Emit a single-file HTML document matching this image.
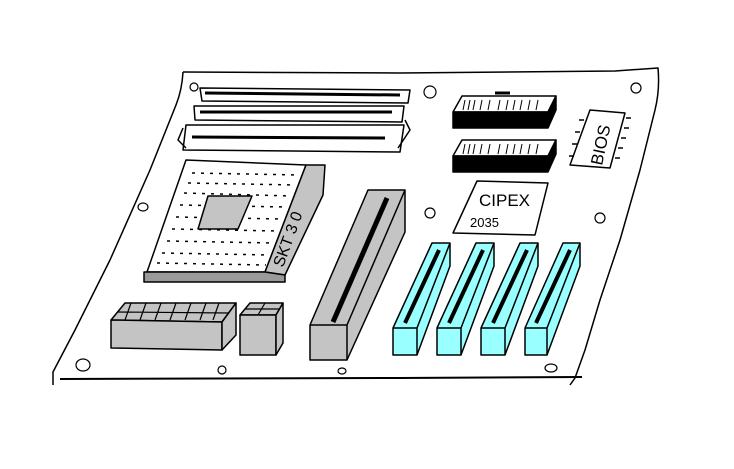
<!DOCTYPE html>
<html><head><meta charset="utf-8"><style>
html,body{margin:0;padding:0;background:#fff;}
svg{display:block;}
text{font-family:"Liberation Sans",sans-serif;}
</style></head><body>
<svg width="734" height="469" viewBox="0 0 734 469" xmlns="http://www.w3.org/2000/svg" stroke="#000" stroke-width="1.5" fill="none" stroke-linejoin="round">
<!-- board -->
<path d="M183,72 L400,73 L615,71 L658,68 Q660,90 655,110 L640,170 L620,240 L600,300 L585,350 L575,378 L570,385"/>
<path d="M183,72 Q182,90 176,105 L150,170 L110,260 L75,330 L53,372 L53,385"/>
<path d="M60,379 L400,378 L582,377" stroke-width="2"/>
<!-- holes -->
<g stroke-width="1.2">
<ellipse cx="194" cy="87" rx="4" ry="4"/><ellipse cx="430" cy="92" rx="6" ry="6"/>
<ellipse cx="143" cy="207" rx="5" ry="4"/><ellipse cx="430" cy="213" rx="5" ry="5"/>
<ellipse cx="636" cy="88" rx="5" ry="5"/><ellipse cx="600" cy="218" rx="5" ry="5"/>
<ellipse cx="551" cy="368" rx="6" ry="4"/><ellipse cx="83" cy="365" rx="7" ry="6"/>
<ellipse cx="222" cy="370" rx="4" ry="4"/><ellipse cx="342" cy="371" rx="4" ry="3"/>
</g>
<!-- RAM slots -->
<path d="M200,88 L410,90 L408,103 L202,101 Z" fill="#fff"/>
<path d="M205,93 L400,95" stroke-width="3"/>
<path d="M194,106 L404,106 L402,122 L195,120 Z" fill="#fff"/>
<path d="M200,112 L392,112" stroke-width="3"/>
<path d="M186,125 L404,125 L400,152 L183,150 Z" fill="#fff"/>
<path d="M192,137 L385,138" stroke-width="3"/>
<path d="M183,128 L178,140 L186,148 M405,120 L410,130 L398,148"/>
<!-- CPU socket -->
<path d="M186,160 L306,165 L265,272 L147,272 Z" fill="#fff"/>
<g stroke-width="1.5" stroke-dasharray="3 6">
<path d="M192,173 L300,175"/><path d="M188,183 L296,185"/><path d="M184,193 L290,196"/>
<path d="M180,205 L286,207"/><path d="M176,217 L282,219"/><path d="M172,229 L278,231"/>
<path d="M167,241 L274,243"/><path d="M162,253 L270,255"/><path d="M157,263 L266,265"/>
</g>
<path d="M208,196 L252,196 L238,229 L198,229 Z" fill="#c4c4c4"/>
<path d="M306,165 L325,165 L323,195 L285,275 L265,272 Z" fill="#c4c4c4"/>
<path d="M144,272 L265,272 L285,275 L285,282 L144,282 Z" fill="#9a9a9a"/>
<text x="0" y="0" transform="translate(283,268) rotate(-70)" font-size="16" fill="#000" stroke="none">SKT 3 0</text>
<!-- AGP gray slot -->
<path d="M368,190 L405,190 L405,232 L347,360 L310,360 L310,325 Z" fill="#c4c4c4"/>
<path d="M310,325 L347,325 L405,190 M347,325 L347,360"/>
<path d="M387,198 L333,322" stroke-width="5"/>
<!-- cyan PCI slots -->
<g>
<path d="M432,243 L450,243 L450,266 L417,355 L393,355 L393,328 Z" fill="#9ff"/>
<path d="M393,328 L417,328 L450,243 M417,328 L417,355"/>
<path d="M439,250 L405,323" stroke-width="4"/>
<path d="M476,243 L494,243 L494,266 L461,355 L437,355 L437,328 Z" fill="#9ff"/>
<path d="M437,328 L461,328 L494,243 M461,328 L461,355"/>
<path d="M483,250 L449,323" stroke-width="4"/>
<path d="M520,243 L538,243 L538,266 L505,355 L481,355 L481,328 Z" fill="#9ff"/>
<path d="M481,328 L505,328 L538,243 M505,328 L505,355"/>
<path d="M527,250 L493,323" stroke-width="4"/>
<path d="M563,243 L580,243 L580,266 L547,355 L525,355 L525,328 Z" fill="#9ff"/>
<path d="M525,328 L547,328 L580,243 M547,328 L547,355"/>
<path d="M570,250 L536,323" stroke-width="4"/>
</g>
<!-- IDE connectors -->
<path d="M462,96 L556,96 L548,112 L453,112 Z" fill="#fff"/>
<path d="M453,112 L548,112 L556,96 L556,110 L548,128 L453,128 Z" fill="#000"/>
<path d="M495,93 L510,93" stroke-width="3"/>
<g stroke-width="1"><path d="M465,100 L463,110 M470,100 L468,110 M475,100 L473,110 M482,100 L480,110 M490,100 L488,110 M500,100 L498,110 M508,100 L506,110 M515,100 L513,110 M522,100 L520,110 M530,100 L528,110 M538,100 L536,110"/></g>
<path d="M462,140 L556,140 L548,156 L453,156 Z" fill="#fff"/>
<path d="M453,156 L548,156 L556,140 L556,154 L548,172 L453,172 Z" fill="#000"/>
<g stroke-width="1"><path d="M465,144 L463,154 M470,144 L468,154 M475,144 L473,154 M482,144 L480,154 M490,144 L488,154 M500,144 L498,154 M508,144 L506,154 M515,144 L513,154 M522,144 L520,154 M530,144 L528,154 M538,144 L536,154"/></g>
<!-- BIOS chip -->
<path d="M590,110 L625,113 L610,168 L570,165 Z" fill="#fff"/>
<g stroke-width="1.5"><path d="M626,118 L631,118 M624,128 L629,128 M621,138 L626,138 M618,148 L623,148 M615,158 L620,158 M584,120 L579,120 M580,132 L575,132 M577,144 L572,144 M574,156 L569,156"/></g>
<text x="0" y="0" transform="translate(602,166) rotate(-78)" font-size="17" fill="#000" stroke="none">BIOS</text>
<!-- CIPEX label -->
<path d="M477,181 L548,183 L535,235 L453,233 Z" fill="#fff"/>
<text x="479" y="206" font-size="17" fill="#000" stroke="none">CIPEX</text>
<text x="470" y="227" font-size="13" fill="#000" stroke="none">2035</text>
<!-- power connector -->
<path d="M111,320 L125,303 L236,303 L222,322 Z" fill="#c4c4c4"/>
<path d="M111,320 L222,322 L222,350 L111,348 Z" fill="#c4c4c4"/>
<path d="M222,322 L236,303 L236,335 L222,350 Z" fill="#c4c4c4"/>
<g stroke-width="1.2"><path d="M118,312 L229,313 M125,320 L131,303 M140,320 L146,303 M155,320 L161,303 M170,320 L176,303 M185,320 L191,303 M200,320 L206,303 M213,320 L219,303"/></g>
<path d="M240,315 L250,303 L283,303 L276,315 Z" fill="#c4c4c4"/>
<path d="M240,315 L276,315 L276,355 L240,355 Z" fill="#c4c4c4"/>
<path d="M276,315 L283,303 L283,343 L276,355 Z" fill="#c4c4c4"/>
<path d="M245,309 L280,309 M258,315 L265,303" stroke-width="1.2"/>
</svg>
</body></html>
